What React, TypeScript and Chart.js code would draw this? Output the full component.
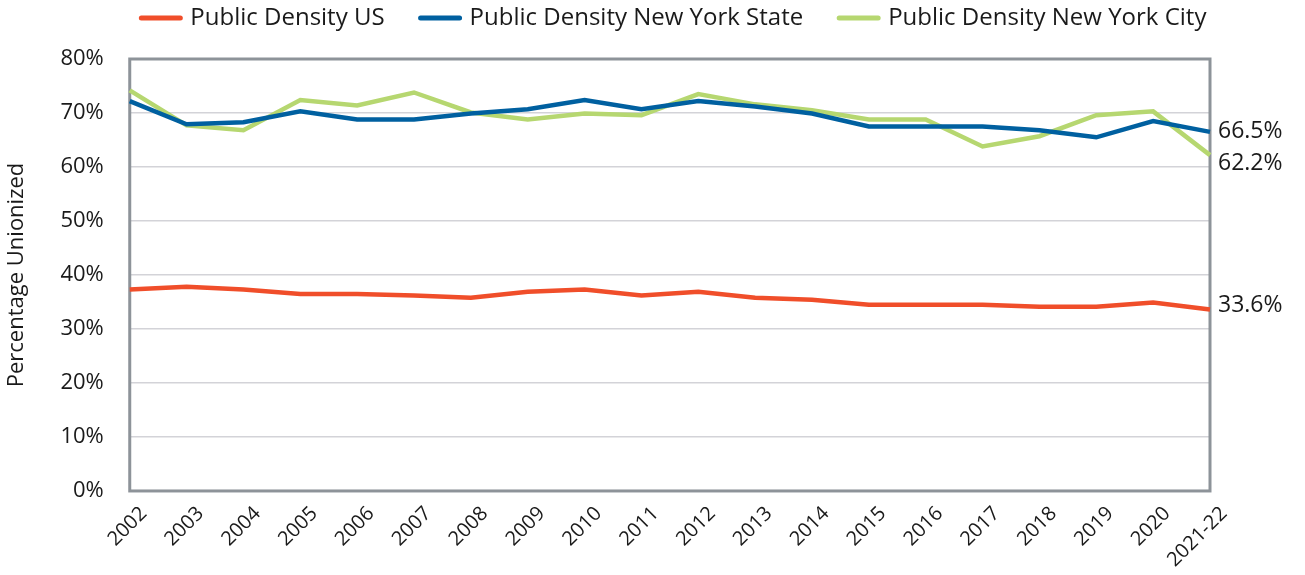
import React, { useEffect, useRef } from "react";
import { Chart, registerables } from "chart.js";

Chart.register(...registerables);

const categories = ["2002","2003","2004","2005","2006","2007","2008","2009","2010","2011","2012","2013","2014","2015","2016","2017","2018","2019","2020","2021-22"];
const usValues = [37.3,37.8,37.3,36.5,36.5,36.2,35.8,36.9,37.3,36.2,36.9,35.8,35.4,34.5,34.5,34.5,34.1,34.1,34.9,33.6];
const nysValues = [72.2,67.9,68.3,70.3,68.8,68.8,69.9,70.7,72.4,70.7,72.2,71.2,69.9,67.5,67.5,67.5,66.8,65.5,68.5,66.5];
const nycValues = [74.2,67.7,66.8,72.4,71.4,73.8,70.1,68.8,69.9,69.6,73.5,71.6,70.5,68.8,68.8,63.8,65.7,69.6,70.3,62.2];
const seriesNames = ["Public Density US", "Public Density New York State", "Public Density New York City"];
const yTicks = [0, 10, 20, 30, 40, 50, 60, 70, 80];
const yTitle = "Percentage Unionized";

const FONT = "'Open Sans', sans-serif";

const endLabelOffsets = [-4, 0, 8];

const boxPlugin = {
  id: "boxPlugin",
  beforeDatasetsDraw(chart: any) {
    const { ctx, chartArea } = chart;
    ctx.save();
    ctx.strokeStyle = "#8d9399";
    ctx.lineWidth = 3;
    ctx.strokeRect(chartArea.left, chartArea.top, chartArea.right - chartArea.left, chartArea.bottom - chartArea.top);
    ctx.restore();
  },
};

const endLabelPlugin = {
  id: "endLabelPlugin",
  afterDatasetsDraw(chart: any) {
    const { ctx } = chart;
    ctx.save();
    ctx.font = `23px ${FONT}`;
    ctx.fillStyle = "#1a1a1a";
    ctx.textAlign = "left";
    ctx.textBaseline = "middle";
    chart.data.datasets.forEach((ds: any, i: number) => {
      const meta = chart.getDatasetMeta(i);
      const pt = meta.data[meta.data.length - 1];
      const v = ds.data[ds.data.length - 1];
      ctx.fillText(`${v.toFixed(1)}%`, pt.x + 8, pt.y + endLabelOffsets[i]);
    });
    ctx.restore();
  },
};

const legendPlugin = {
  id: "customLegend",
  afterDraw(chart: any) {
    const { ctx, chartArea } = chart;
    const boxW = 43;
    const boxGap = 8;
    const itemGap = 34;
    const y = 18;
    ctx.save();
    ctx.font = `24px ${FONT}`;
    ctx.textBaseline = "middle";
    ctx.textAlign = "left";
    const items = chart.data.datasets.map((ds: any) => ({
      label: ds.label,
      color: ds.borderColor,
      w: ctx.measureText(ds.label).width,
    }));
    const total = items.reduce((s: number, it: any) => s + boxW + boxGap + it.w, 0) + itemGap * (items.length - 1);
    let x = (chartArea.left + chartArea.right) / 2 + 3 - total / 2;
    items.forEach((it: any) => {
      ctx.strokeStyle = it.color;
      ctx.lineWidth = 5;
      ctx.lineCap = "round";
      ctx.beginPath();
      ctx.moveTo(x + 2, y);
      ctx.lineTo(x + boxW - 2, y);
      ctx.stroke();
      ctx.fillStyle = "#1a1a1a";
      ctx.fillText(it.label, x + boxW + boxGap, y);
      x += boxW + boxGap + it.w + itemGap;
    });
    ctx.restore();
  },
};

export default function App() {
  const ref = useRef<HTMLCanvasElement>(null);
  useEffect(() => {
    document.body.style.margin = "0";
    const chart = new Chart(ref.current!, {
      type: "line",
      data: {
        labels: categories,
        datasets: [
          { label: seriesNames[0], data: usValues, borderColor: "#f04e2a", backgroundColor: "#f04e2a", borderWidth: 4.5, pointRadius: 0, tension: 0 },
          { label: seriesNames[1], data: nysValues, borderColor: "#0060a0", backgroundColor: "#0060a0", borderWidth: 4.5, pointRadius: 0, tension: 0 },
          { label: seriesNames[2], data: nycValues, borderColor: "#b6d770", backgroundColor: "#b6d770", borderWidth: 4.5, pointRadius: 0, tension: 0 },
        ],
      },
      options: {
        animation: false,
        responsive: true,
        maintainAspectRatio: false,
        layout: { padding: { top: 59, right: 95, bottom: 0, left: 4 } },
        plugins: {
          legend: { display: false },
          tooltip: { enabled: false },
        },
        scales: {
          x: {
            offset: false,
            grid: { display: false },
            border: { display: false },
            ticks: {
              minRotation: 45,
              maxRotation: 45,
              labelOffset: 14,
              color: "#1a1a1a",
              font: { family: FONT, size: 20 },
              padding: 3,
            },
          },
          y: {
            min: 0,
            max: 80,
            afterBuildTicks: (axis: any) => {
              axis.ticks = yTicks.map((v) => ({ value: v }));
            },
            grid: { color: "#d3d3d8", lineWidth: 1.5, drawTicks: false },
            border: { display: false },
            ticks: {
              color: "#1a1a1a",
              font: { family: FONT, size: 22 },
              padding: 26,
              callback: (v: any) => `${v}%`,
            },
            title: {
              display: true,
              text: yTitle,
              color: "#1a1a1a",
              font: { family: FONT, size: 22 },
              padding: { top: 0, bottom: 4 },
            },
          },
        },
      },
      plugins: [boxPlugin, endLabelPlugin, legendPlugin],
    });
    return () => chart.destroy();
  }, []);
  return (
    <div style={{ width: 1305, height: 575, position: "relative" }}>
      <canvas ref={ref} />
    </div>
  );
}
